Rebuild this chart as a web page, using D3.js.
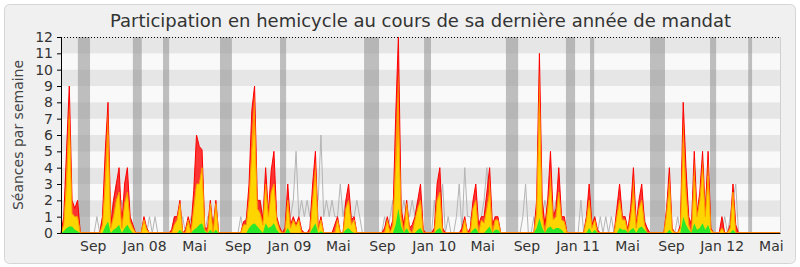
<!DOCTYPE html>
<html>
<head>
<meta charset="utf-8">
<script src="https://cdn.jsdelivr.net/npm/d3@7"></script>
<style>
  body { margin: 0; background: #fff; }
  svg { display: block; font-family: "DejaVu Sans", sans-serif; }
</style>
</head>
<body>
<div id="chart"></div>
<script>
// one point per week, week 0 = mid June 2007
const nWeeks = 261;

// [week, value] for weeks that are not zero
const presences = [[1,1],[2,5],[3,9],[4,2],[5,1.5],[6,2],
  [15,1],[16,5],[17,8],[18,0.5],[19,2],[20,3],[21,4],[22,0.5],[23,3],[24,4],[25,1],[26,0.5],
  [30,1],[31,0.3],
  [40,0.2],[41,1],[42,1],[43,2],[45,0.2],[46,1],[47,0.3],[48,2.6],[49,6],[50,5.3],[51,5.1],[52,0.3],[53,0.3],[54,2],[55,0.3],[56,2],
  [66,0.7],[67,0.8],[68,3],[69,7.5],[70,9],[71,2],[72,2],[73,0.8],[74,4],[75,1.2],[76,3.8],[77,5],[78,1],[79,0.4],[81,0.3],[82,3],[83,0.5],
  [84,1],[85,0.5],[86,1],[87,0.2],[90,0.3],[91,3],[92,5],[93,0.3],[94,1],[99,0.5],[100,1],[103,2],[104,3],[105,0.8],[106,1],
  [117,0.3],[118,1],[119,0.2],[120,0.8],[121,7],[122,12],[123,1.5],[124,0.5],[125,2],[126,0.3],[127,0.5],[128,1],[129,2],[130,3],[131,0.2],
  [135,0.3],[136,3],[137,4],[138,0.3],[145,0.3],[146,1],[148,0.3],[149,2],[150,3],[151,0.5],[152,1],[153,1],[154,2.5],[155,4],[156,0.5],[157,1],[158,1],
  [172,2],[173,11],[174,2],[175,0.5],[176,2],[177,5],[178,1],[179,1.5],[180,4],[181,1],[182,1],
  [190,1],[191,3],[192,0.5],[193,1],[194,0.2],[201,1.5],[202,3],[203,1],[204,1],[205,0.2],[206,1.5],[207,4],[208,0.5],[209,2],[210,3],[211,0.7],[212,0.3],
  [219,1.5],[220,4],[221,0.3],[224,0.5],[225,8],[226,4],[227,1],[228,0.5],[229,5],[230,1.2],[231,2.5],[232,5],[233,1.2],[234,5],[235,0.3],
  [239,1],[242,0.5],[243,3],[244,0.5]];

const participations = [[2,4],[3,8],[16,4],[17,7.5],[69,6],[70,8.5],[92,4.5],[121,5.5],[122,10],
  [155,3.5],[172,1.6],[173,10],[177,4],[207,3.5],[220,3.7],[225,7],[226,3],[229,4.5],[232,4.7],[234,4.5]];

const interventions = [[1,0.5],[2,3],[3,7],[4,1.2],[5,1],[6,1],
  [15,0.5],[16,3],[17,6],[18,0.3],[19,1],[20,2],[21,2.5],[22,0.3],[23,1.8],[24,2.5],[25,0.7],[26,0.3],
  [30,0.8],[31,0.2],
  [41,0.5],[42,0.8],[43,1.8],[46,0.8],[48,1.5],[49,3],[50,3],[51,4],[52,0.2],[54,1.8],[56,1.8],
  [66,0.5],[67,0.5],[68,2],[69,5],[70,7],[71,1.5],[72,1.2],[73,0.5],[74,3],[75,1],[76,2.5],[77,3],[78,0.8],[79,0.2],[82,2],[83,0.3],
  [84,0.8],[85,0.4],[86,0.8],[91,2],[92,3.8],[93,0.2],[94,0.8],[100,0.8],[103,1.5],[104,2],[105,0.5],[106,0.8],
  [118,0.8],[120,0.5],[121,4],[122,7],[123,1],[125,1.8],[126,0.2],[128,0.8],[129,1.5],[130,2],
  [136,2],[137,2.5],[146,0.8],[149,1.5],[150,2],[152,0.8],[153,0.6],[154,1.5],[155,2.5],[157,0.8],[158,0.8],
  [172,1.2],[173,8],[174,1.2],[176,1.5],[177,3],[178,0.8],[179,1],[180,2.5],[181,0.8],[182,0.7],
  [190,0.8],[191,2],[192,0.3],[193,0.8],[201,1],[202,2],[203,0.8],[204,0.8],[206,1],[207,2.5],[208,0.3],[209,1.5],[210,2],[211,0.5],
  [219,1.2],[220,3],[221,0.2],[224,0.3],[225,5.5],[226,2.5],[227,0.5],[229,3.5],[230,1],[231,2],[232,4],[233,1],[234,3.5],[235,0.2],
  [239,0.3],[242,0.3],[243,2.5]];

const questions = [[1,0.1],[2,0.3],[3,0.4],[4,0.4],[5,0.2],[6,0.1],
  [16,0.4],[17,0.7],[19,0.2],[20,0.3],[21,0.5],[23,0.3],[24,0.5],[25,0.2],
  [43,0.2],[48,0.2],[49,0.3],[50,0.5],[51,0.6],[52,0.1],[54,0.2],[56,0.2],
  [68,0.3],[69,0.5],[70,0.6],[71,0.4],[72,0.2],[74,0.6],[75,0.3],[76,0.4],[77,0.6],[78,0.2],[82,0.3],
  [91,0.3],[92,0.6],[94,0.1],[103,0.2],[104,0.3],[105,0.1],
  [121,0.5],[122,1.5],[123,0.4],[125,0.3],[129,0.2],[130,0.3],
  [136,0.2],[137,0.3],[149,0.2],[150,0.3],[154,0.2],[155,0.4],[157,0.2],[158,0.2],
  [172,0.3],[173,0.9],[174,0.3],[176,0.3],[177,0.4],[178,0.2],[179,0.3],[180,0.3],[181,0.2],
  [191,0.3],[193,0.2],[202,0.3],[203,0.2],[204,0.2],[206,0.2],[207,0.3],[209,0.3],[210,0.4],[211,0.2],
  [220,0.2],[225,1],[226,0.5],[227,0.2],[229,0.6],[230,0.2],[231,0.3],[232,0.6],[233,0.2],[234,0.5],[243,0.2]];

const mediane = [[2,1],[3,2],[4,1],[5,1],[6,1],
  [13,1],[15,1],[16,2],[17,2],[18,1],[19,2],[20,3],[21,1],[22,2],[23,1],[24,2],[25,1],
  [30,0.5],[32,1],[34,1],
  [41,1],[42,1],[44,1],[47,1],[48,1],[49,2],[50,2],[51,2],[53,1],[55,1],
  [65,1],[67,1],[68,1],[69,2],[70,2],[71,1],[72,2],[73,1],[74,2],[75,1],[76,2],[77,2],[78,1],[82,1],
  [83,1],[84,2],[85,5],[86,1],[87,2],[88,1],[89,2],[90,1],[91,2],[92,2],[93,2],[94,6],[95,1],[96,2],[97,1],[98,2],[99,1],[100,1],[101,3],[102,1],[103,2],[104,2],[105,1],[106,1],[107,2],[108,1],
  [117,1],[119,1],[120,2],[121,2],[122,10],[123,1],[124,2],[125,1],[126,1],[127,2],[128,1],[129,2],[130,1],
  [135,2],[137,1],[138,3],[140,1],[143,1],[144,3],[146,4],[147,1],[148,1],[150,1],[152,1],[153,2],[154,4],[155,1],[157,1],
  [167,1],[168,3],[171,1],[173,2],[174,1],[175,2],[176,1],[177,2],[178,1],[179,2],[180,2],[181,1],
  [188,2],[190,1],[191,1],[193,1],[195,1],[197,1],[199,1],[201,1],[202,1],[203,1],[204,1],[206,1],[207,2],[208,1],[209,1],[210,2],[211,1],
  [220,1],[223,1],[225,3],[226,2],[229,2],[231,2],[232,3],[233,2],[234,4],[240,1],[242,1],[243,2],[244,3]];

// parliamentary holidays, [from week, to week]
const vacances = [[6.1,10.5],[26,29.2],[36.9,39.1],[57.5,61.8],[79.2,81.4],[109.6,115],[131.3,133.8],
  [160.9,165.3],[182.6,185.9],[191.3,192.8],[213,218.4],[234.7,236.9],[248.5,249.9]];

const tickWeeks = [11.5,30.1,48.1,63.9,82.4,100.1,116.1,134.8,152.3,168.3,186.8,204.7,220.6,238.9,256.7];
const tickLabels = ["Sep","Jan 08","Mai","Sep","Jan 09","Mai","Sep","Jan 10","Mai","Sep","Jan 11","Mai","Sep","Jan 12","Mai"];

const W = 800, H = 267;
const plot = { left: 61, right: 780, top: 37, bottom: 233 };

function weekly(pairs) {
  const a = new Array(nWeeks).fill(0);
  pairs.forEach(([w, v]) => { a[w] = v; });
  return a;
}

const svg = d3.select("#chart").append("svg")
  .attr("width", W).attr("height", H);

// frame
svg.append("rect")
  .attr("x", 4.5).attr("y", 4.5).attr("width", W - 9).attr("height", H - 8)
  .attr("rx", 5).attr("fill", "#f0f0f0").attr("stroke", "#d6d6d6");

// title is centred over the plot, not the page
svg.append("text")
  .attr("x", (plot.left + plot.right) / 2).attr("y", 27)
  .attr("text-anchor", "middle")
  .attr("font-size", "18px").attr("fill", "#333")
  .text("Participation en hemicycle au cours de sa dernière année de mandat");

const x = d3.scaleLinear().domain([0, nWeeks - 1]).range([plot.left, plot.right]);
const y = d3.scaleLinear().domain([0, 12]).range([plot.bottom, plot.top]);

// stripes
svg.append("g").selectAll("rect")
  .data(d3.range(12))
  .enter().append("rect")
  .attr("x", plot.left).attr("width", plot.right - plot.left)
  .attr("y", d => y(d + 1)).attr("height", d => y(d) - y(d + 1))
  .attr("fill", d => d % 2 ? "#e6e6e6" : "#f9f9f9");

// holidays
svg.append("g").selectAll("rect")
  .data(vacances)
  .enter().append("rect")
  .attr("x", d => x(d[0])).attr("width", d => x(d[1]) - x(d[0]))
  .attr("y", plot.top).attr("height", plot.bottom - plot.top)
  .attr("fill", "rgb(150,150,150)").attr("fill-opacity", 0.6);

const idx = d3.range(nWeeks);
const area = vals => d3.area()
  .x(i => x(i)).y0(y(0)).y1(i => y(vals[i]))(idx);
const line = vals => d3.line()
  .x(i => x(i)).y(i => y(vals[i]))(idx);

const med = weekly(mediane);
svg.append("path").attr("d", line(med))
  .attr("fill", "none").attr("stroke", "#b4b4b4").attr("stroke-width", 1);

const pres = weekly(presences);
svg.append("path").attr("d", area(pres))
  .attr("fill", "#ff0000").attr("fill-opacity", 0.78)
  .attr("stroke", "#ff0000").attr("stroke-width", 1);

const part = weekly(participations);
svg.append("path").attr("d", area(part))
  .attr("fill", "#ff9a00").attr("stroke", "none");

const interv = weekly(interventions);
svg.append("path").attr("d", area(interv))
  .attr("fill", "#ffd500").attr("stroke", "#ff9a00").attr("stroke-width", 1);

const quest = weekly(questions);
svg.append("path").attr("d", area(quest))
  .attr("fill", "#2be82b").attr("stroke", "none");

// dotted top line and right border
svg.append("line")
  .attr("x1", plot.left).attr("x2", plot.right)
  .attr("y1", plot.top + 0.5).attr("y2", plot.top + 0.5)
  .attr("stroke", "#000").attr("stroke-dasharray", "1,2");
svg.append("line")
  .attr("x1", plot.right + 0.5).attr("x2", plot.right + 0.5)
  .attr("y1", plot.top).attr("y2", plot.bottom)
  .attr("stroke", "#d0d0d0");

// y axis
const yAxis = svg.append("g")
  .attr("transform", "translate(" + plot.left + ",0)")
  .call(d3.axisLeft(y).ticks(12).tickSize(4).tickSizeOuter(0));
yAxis.select(".domain").attr("stroke", "#000");
yAxis.selectAll("text").attr("font-size", "14px").attr("fill", "#333")
  .attr("font-family", "DejaVu Sans").attr("x", -8);

// x axis
const xAxis = svg.append("g")
  .attr("transform", "translate(0," + plot.bottom + ")")
  .call(d3.axisBottom(x).tickValues(tickWeeks)
    .tickFormat((d, i) => tickLabels[i]).tickSize(0).tickSizeOuter(0));
xAxis.select(".domain").attr("stroke", "#000");
xAxis.selectAll("text").attr("font-size", "14px").attr("fill", "#333")
  .attr("font-family", "DejaVu Sans").attr("dy", "1.05em");

svg.append("text")
  .attr("transform", "translate(23," + ((plot.top + plot.bottom) / 2) + ") rotate(-90)")
  .attr("text-anchor", "middle")
  .attr("font-size", "14px").attr("fill", "#444")
  .text("Séances par semaine");
</script>
</body>
</html>
